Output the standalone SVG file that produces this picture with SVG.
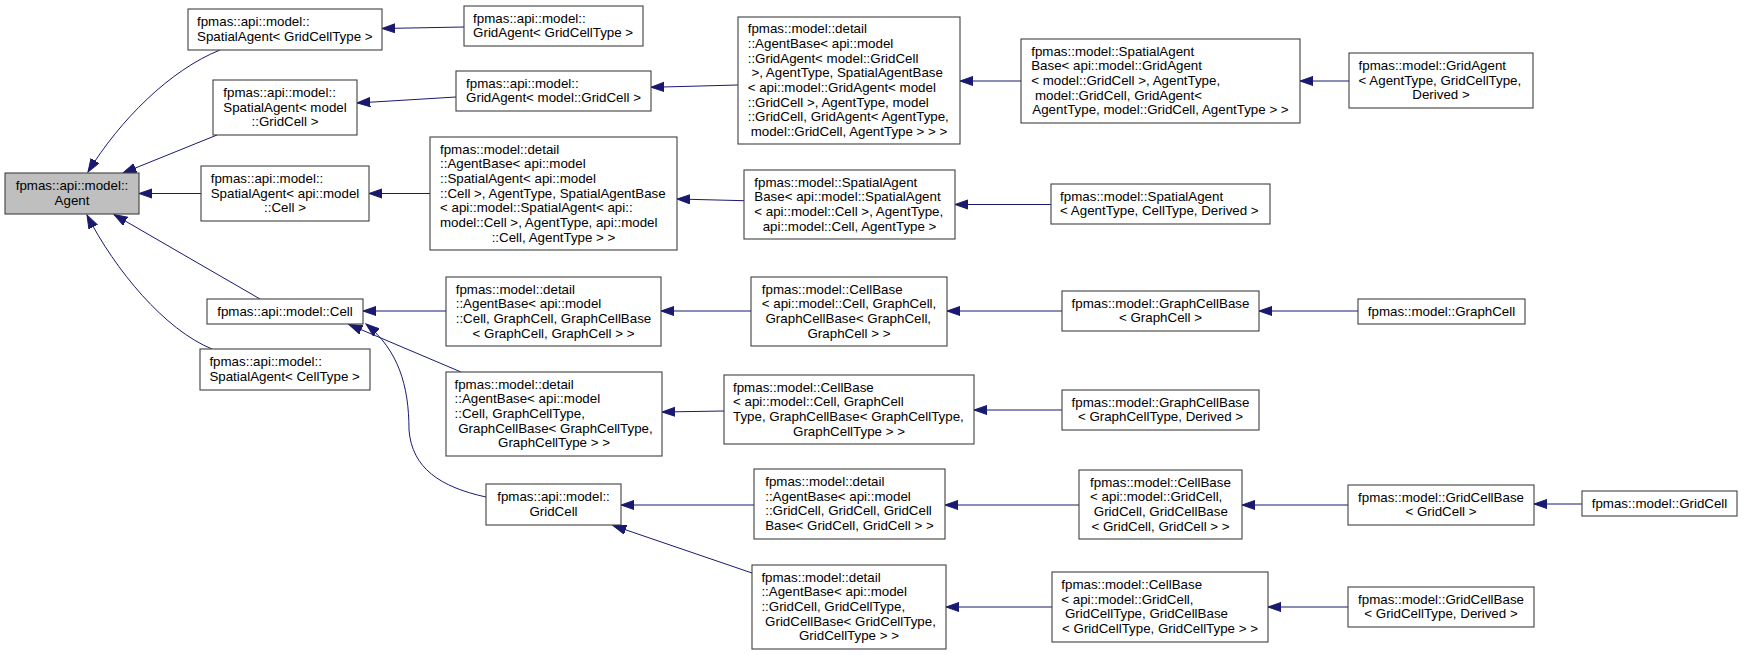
<svg xmlns="http://www.w3.org/2000/svg" width="1744" height="655" viewBox="0 0 1744 655">
<style>
.n rect{fill:#ffffff;stroke:#404040;stroke-width:1.1}
.n.root rect{fill:#bfbfbf}
.n text{font-family:"Liberation Sans",Arial,sans-serif;font-size:13.33px;fill:#000000}
.n text.c{text-anchor:middle}
.e path{fill:none;stroke:#191970;stroke-width:1;marker-end:url(#arr)}
</style>
<defs>
<marker id="arr" markerUnits="userSpaceOnUse" markerWidth="15" markerHeight="11" refX="13.3" refY="5" orient="auto" viewBox="0 0 15 11">
<path d="M0,0.35 L13.3,5 L0,9.65 z" fill="#191970" stroke="#191970" stroke-width="1"/>
</marker>
</defs>
<rect width="1744" height="655" fill="#ffffff"/>
<g id="edges" class="e">
<path d="M220,50 C170,70 120,120 88,172"/>
<path d="M217,135 L123,173"/>
<path d="M201,193.5 L139,193.5"/>
<path d="M260,299 L114,214.5"/>
<path d="M212,349 C165,330 115,270 87,215"/>
<path d="M464,27 L382,28.5"/>
<path d="M456,97 L357,103"/>
<path d="M738,85 L651,87.3"/>
<path d="M1021,81 L960,81"/>
<path d="M1349,81 L1300,81"/>
<path d="M430,193.5 L369,193.5"/>
<path d="M744,200.7 L677,199"/>
<path d="M1051,204.5 L955,204.5"/>
<path d="M446,311 L363,311"/>
<path d="M751,311 L661,311"/>
<path d="M1062,311 L947,311"/>
<path d="M1358,311 L1259,311"/>
<path d="M461,372 L349,324.5"/>
<path d="M724,411 L662,412"/>
<path d="M1062,410 L974,410"/>
<path d="M486,497 C440,487 412,468 409,430 C409,385 398,350 366,324"/>
<path d="M754,505 L621,505"/>
<path d="M752,573 L613,525.5"/>
<path d="M1079,505 L945,505"/>
<path d="M1348,505 L1242,505"/>
<path d="M1582,504 L1534,504"/>
<path d="M1052,607 L946,607"/>
<path d="M1348,607 L1268,607"/>
</g>
<g id="node_agent" class="n root">
<rect x="5" y="173" width="134" height="41"/>
<text class="c" x="72" y="190.2">fpmas::api::model::</text>
<text class="c" x="72" y="204.8">Agent</text>
</g>
<g id="node_spatialagent_gridcelltype" class="n">
<rect x="188" y="9" width="194" height="41"/>
<text x="197" y="26.2">fpmas::api::model::</text>
<text x="197" y="40.8">SpatialAgent&lt; GridCellType &gt;</text>
</g>
<g id="node_spatialagent_model_gridcell" class="n">
<rect x="213" y="80" width="144" height="55"/>
<text x="223.3" y="96.8">fpmas::api::model::</text>
<text x="223.3" y="111.5">SpatialAgent&lt; model</text>
<text class="c" x="285" y="126.2">::GridCell &gt;</text>
</g>
<g id="node_spatialagent_api_cell" class="n">
<rect x="201" y="166" width="168" height="55"/>
<text x="210.7" y="182.8">fpmas::api::model::</text>
<text x="210.7" y="197.5">SpatialAgent&lt; api::model</text>
<text class="c" x="285" y="212.2">::Cell &gt;</text>
</g>
<g id="node_api_cell" class="n">
<rect x="207" y="299" width="156" height="25"/>
<text class="c" x="285" y="315.5">fpmas::api::model::Cell</text>
</g>
<g id="node_spatialagent_celltype" class="n">
<rect x="200" y="349" width="170" height="41"/>
<text x="209.4" y="366.2">fpmas::api::model::</text>
<text x="209.4" y="380.8">SpatialAgent&lt; CellType &gt;</text>
</g>
<g id="node_gridagent_gridcelltype" class="n">
<rect x="464" y="6" width="179" height="40"/>
<text x="473.1" y="22.7">fpmas::api::model::</text>
<text x="473.1" y="37.3">GridAgent&lt; GridCellType &gt;</text>
</g>
<g id="node_gridagent_model_gridcell" class="n">
<rect x="456" y="71" width="195" height="40"/>
<text x="466.1" y="87.7">fpmas::api::model::</text>
<text x="466.1" y="102.3">GridAgent&lt; model::GridCell &gt;</text>
</g>
<g id="node_agentbase_spatialagent_cell" class="n">
<rect x="430" y="137" width="247" height="113"/>
<text x="440" y="153.5">fpmas::model::detail</text>
<text x="440" y="168.2">::AgentBase&lt; api::model</text>
<text x="440" y="182.8">::SpatialAgent&lt; api::model</text>
<text x="440" y="197.5">::Cell &gt;, AgentType, SpatialAgentBase</text>
<text x="440" y="212.2">&lt; api::model::SpatialAgent&lt; api::</text>
<text x="440" y="226.8">model::Cell &gt;, AgentType, api::model</text>
<text class="c" x="553.5" y="241.5">::Cell, AgentType &gt; &gt;</text>
</g>
<g id="node_agentbase_cell_graphcell" class="n">
<rect x="446" y="277" width="215" height="69"/>
<text x="455.7" y="293.5">fpmas::model::detail</text>
<text x="455.7" y="308.2">::AgentBase&lt; api::model</text>
<text x="455.7" y="322.8">::Cell, GraphCell, GraphCellBase</text>
<text class="c" x="553.5" y="337.5">&lt; GraphCell, GraphCell &gt; &gt;</text>
</g>
<g id="node_agentbase_cell_graphcelltype" class="n">
<rect x="446" y="372" width="216" height="84"/>
<text x="454.5" y="388.7">fpmas::model::detail</text>
<text x="454.5" y="403.3">::AgentBase&lt; api::model</text>
<text x="454.5" y="418">::Cell, GraphCellType,</text>
<text x="458.2" y="432.7">GraphCellBase&lt; GraphCellType,</text>
<text class="c" x="554" y="447.3">GraphCellType &gt; &gt;</text>
</g>
<g id="node_api_gridcell" class="n">
<rect x="486" y="484" width="135" height="41"/>
<text class="c" x="553.5" y="501.2">fpmas::api::model::</text>
<text class="c" x="553.5" y="515.8">GridCell</text>
</g>
<g id="node_agentbase_gridagent" class="n">
<rect x="738" y="17" width="222" height="127"/>
<text x="747.7" y="33.2">fpmas::model::detail</text>
<text x="747.7" y="47.8">::AgentBase&lt; api::model</text>
<text x="747.7" y="62.5">::GridAgent&lt; model::GridCell</text>
<text x="751.4" y="77.2">&gt;, AgentType, SpatialAgentBase</text>
<text x="747.7" y="91.8">&lt; api::model::GridAgent&lt; model</text>
<text x="747.7" y="106.5">::GridCell &gt;, AgentType, model</text>
<text x="747.7" y="121.2">::GridCell, GridAgent&lt; AgentType,</text>
<text class="c" x="849" y="135.8">model::GridCell, AgentType &gt; &gt; &gt;</text>
</g>
<g id="node_spatialagentbase_cell" class="n">
<rect x="744" y="170" width="211" height="69"/>
<text x="754.3" y="186.5">fpmas::model::SpatialAgent</text>
<text x="754.3" y="201.2">Base&lt; api::model::SpatialAgent</text>
<text x="754.3" y="215.8">&lt; api::model::Cell &gt;, AgentType,</text>
<text class="c" x="849.5" y="230.5">api::model::Cell, AgentType &gt;</text>
</g>
<g id="node_cellbase_cell_graphcell" class="n">
<rect x="751" y="277" width="196" height="69"/>
<text x="761.8" y="293.5">fpmas::model::CellBase</text>
<text x="761.8" y="308.2">&lt; api::model::Cell, GraphCell,</text>
<text x="765.5" y="322.8">GraphCellBase&lt; GraphCell,</text>
<text class="c" x="849" y="337.5">GraphCell &gt; &gt;</text>
</g>
<g id="node_cellbase_cell_graphcelltype" class="n">
<rect x="724" y="375" width="250" height="69"/>
<text x="733" y="391.5">fpmas::model::CellBase</text>
<text x="733" y="406.2">&lt; api::model::Cell, GraphCell</text>
<text x="733" y="420.8">Type, GraphCellBase&lt; GraphCellType,</text>
<text class="c" x="849" y="435.5">GraphCellType &gt; &gt;</text>
</g>
<g id="node_agentbase_gridcell_gridcell" class="n">
<rect x="754" y="469" width="191" height="70"/>
<text x="765.2" y="486">fpmas::model::detail</text>
<text x="765.2" y="500.7">::AgentBase&lt; api::model</text>
<text x="765.2" y="515.3">::GridCell, GridCell, GridCell</text>
<text class="c" x="849.5" y="530">Base&lt; GridCell, GridCell &gt; &gt;</text>
</g>
<g id="node_agentbase_gridcell_gridcelltype" class="n">
<rect x="752" y="565" width="194" height="84"/>
<text x="761.4" y="581.7">fpmas::model::detail</text>
<text x="761.4" y="596.3">::AgentBase&lt; api::model</text>
<text x="761.4" y="611">::GridCell, GridCellType,</text>
<text x="765.1" y="625.7">GridCellBase&lt; GridCellType,</text>
<text class="c" x="849" y="640.3">GridCellType &gt; &gt;</text>
</g>
<g id="node_spatialagentbase_gridagent" class="n">
<rect x="1021" y="39" width="279" height="84"/>
<text x="1031.2" y="55.7">fpmas::model::SpatialAgent</text>
<text x="1031.2" y="70.3">Base&lt; api::model::GridAgent</text>
<text x="1031.2" y="85">&lt; model::GridCell &gt;, AgentType,</text>
<text x="1034.9" y="99.7">model::GridCell, GridAgent&lt;</text>
<text class="c" x="1160.5" y="114.3">AgentType, model::GridCell, AgentType &gt; &gt;</text>
</g>
<g id="node_model_spatialagent" class="n">
<rect x="1051" y="184" width="219" height="40"/>
<text x="1060.1" y="200.7">fpmas::model::SpatialAgent</text>
<text x="1060.1" y="215.3">&lt; AgentType, CellType, Derived &gt;</text>
</g>
<g id="node_graphcellbase_graphcell" class="n">
<rect x="1062" y="291" width="197" height="40"/>
<text class="c" x="1160.5" y="307.7">fpmas::model::GraphCellBase</text>
<text class="c" x="1160.5" y="322.3">&lt; GraphCell &gt;</text>
</g>
<g id="node_graphcellbase_graphcelltype" class="n">
<rect x="1062" y="390" width="197" height="40"/>
<text class="c" x="1160.5" y="406.7">fpmas::model::GraphCellBase</text>
<text class="c" x="1160.5" y="421.3">&lt; GraphCellType, Derived &gt;</text>
</g>
<g id="node_cellbase_gridcell_gridcell" class="n">
<rect x="1079" y="470" width="163" height="69"/>
<text x="1090.1" y="486.5">fpmas::model::CellBase</text>
<text x="1090.1" y="501.2">&lt; api::model::GridCell,</text>
<text x="1093.8" y="515.8">GridCell, GridCellBase</text>
<text class="c" x="1160.5" y="530.5">&lt; GridCell, GridCell &gt; &gt;</text>
</g>
<g id="node_cellbase_gridcell_gridcelltype" class="n">
<rect x="1052" y="572" width="216" height="70"/>
<text x="1061.3" y="589">fpmas::model::CellBase</text>
<text x="1061.3" y="603.7">&lt; api::model::GridCell,</text>
<text x="1065" y="618.3">GridCellType, GridCellBase</text>
<text class="c" x="1160" y="633">&lt; GridCellType, GridCellType &gt; &gt;</text>
</g>
<g id="node_model_gridagent" class="n">
<rect x="1349" y="53" width="184" height="55"/>
<text x="1358.6" y="69.8">fpmas::model::GridAgent</text>
<text x="1358.6" y="84.5">&lt; AgentType, GridCellType,</text>
<text class="c" x="1441" y="99.2">Derived &gt;</text>
</g>
<g id="node_model_graphcell" class="n">
<rect x="1358" y="299" width="167" height="25"/>
<text class="c" x="1441.5" y="315.5">fpmas::model::GraphCell</text>
</g>
<g id="node_gridcellbase_gridcell" class="n">
<rect x="1348" y="485" width="186" height="40"/>
<text class="c" x="1441" y="501.7">fpmas::model::GridCellBase</text>
<text class="c" x="1441" y="516.3">&lt; GridCell &gt;</text>
</g>
<g id="node_gridcellbase_gridcelltype" class="n">
<rect x="1348" y="587" width="186" height="40"/>
<text class="c" x="1441" y="603.7">fpmas::model::GridCellBase</text>
<text class="c" x="1441" y="618.3">&lt; GridCellType, Derived &gt;</text>
</g>
<g id="node_model_gridcell" class="n">
<rect x="1582" y="491" width="155" height="25"/>
<text class="c" x="1659.5" y="507.5">fpmas::model::GridCell</text>
</g>
</svg>
